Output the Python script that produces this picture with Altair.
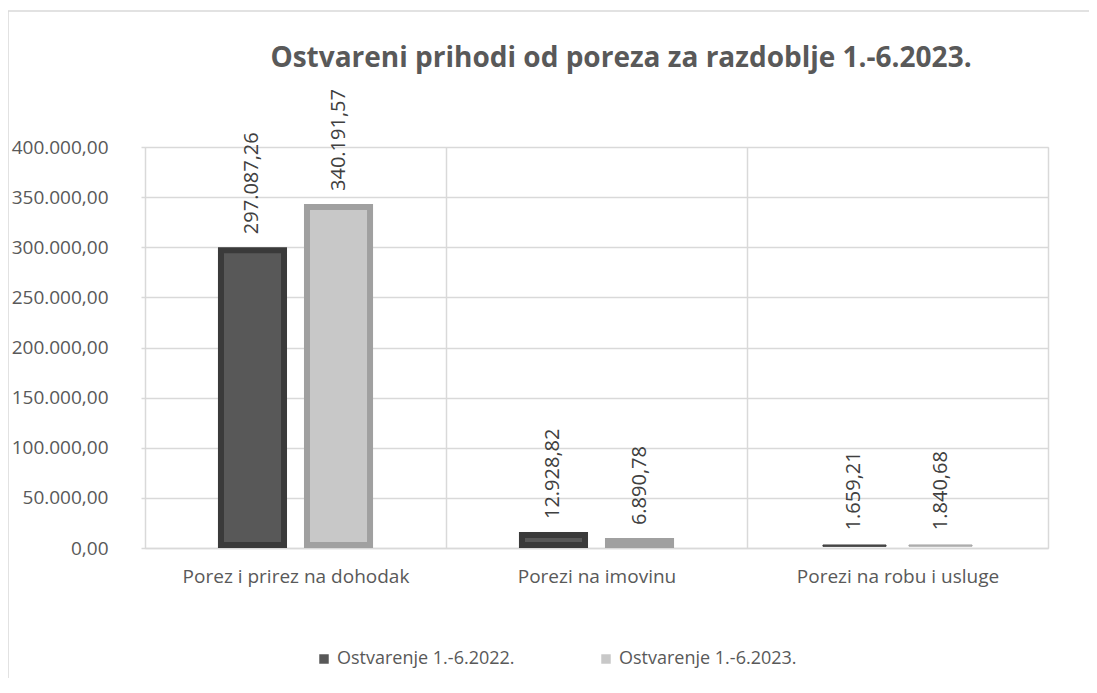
import altair as alt
import pandas as pd

title_text = "Ostvareni prihodi od poreza za razdoblje 1.-6.2023."
categories = ["Porez i prirez na dohodak", "Porezi na imovinu", "Porezi na robu i usluge"]
series = ["Ostvarenje 1.-6.2022.", "Ostvarenje 1.-6.2023."]
values_2022 = [297087.26, 12928.82, 1659.21]
values_2023 = [340191.57, 6890.78, 1840.68]
y_ticks = [0, 50000, 100000, 150000, 200000, 250000, 300000, 350000, 400000]

rows = []
for c, v in zip(categories, values_2022):
    rows.append({"cat": c, "series": series[0], "value": v})
for c, v in zip(categories, values_2023):
    rows.append({"cat": c, "series": series[1], "value": v})
df = pd.DataFrame(rows)

FONT = "Open Sans"
GRID = "#d9d9d9"
TXT = "#595959"

x_enc = alt.X("cat:N", sort=categories, title=None,
              scale=alt.Scale(paddingInner=0, paddingOuter=0),
              axis=alt.Axis(labelAngle=0, ticks=False, grid=True, tickBand="extent",
                            gridColor=GRID, gridWidth=1.5, domainColor=GRID, domainWidth=1.5,
                            labelFont=FONT, labelFontSize=19, labelColor=TXT, labelPadding=19,
                            labelLimit=0))
y_enc = alt.Y("value:Q", title=None,
              scale=alt.Scale(domain=[0, 400000], nice=False),
              axis=alt.Axis(values=y_ticks, format=",.2f", grid=True, gridColor=GRID, gridWidth=1.5,
                            domain=False, tickColor=GRID, tickSize=4, tickWidth=1.5,
                            labelFont=FONT, labelFontSize=19, labelColor=TXT, labelPadding=33,
                            labelLimit=0))
xoff = alt.XOffset("series:N", sort=series,
                   scale=alt.Scale(paddingInner=0.267, paddingOuter=0.883))

# bevelled bars: face colour with a thick edge stroke; base lifted by the stroke half-width
bars = alt.Chart(df).mark_bar().encode(
    x=x_enc,
    y=y_enc,
    y2=alt.datum(3000),
    xOffset=xoff,
    color=alt.Color("series:N", sort=series, title=None,
                    scale=alt.Scale(domain=series, range=["#585858", "#c8c8c8"]),
                    legend=alt.Legend(orient="none", legendX=170, legendY=503, direction="horizontal",
                                      symbolType="square", symbolSize=90, symbolStrokeWidth=0,
                                      labelFont=FONT, labelFontSize=18, labelColor=TXT,
                                      columnPadding=82, labelOffset=4, labelLimit=0)),
    stroke=alt.Stroke("series:N", sort=series, legend=None,
                      scale=alt.Scale(domain=series, range=["#3a3a3a", "#a0a0a0"])),
    strokeWidth=alt.condition("datum.value >= 5000", alt.value(6), alt.value(1)),
)

labels = alt.Chart(df).mark_text(angle=270, align="left", baseline="middle", dx=16,
                                 font=FONT, fontSize=20, color="#404040").encode(
    x=alt.X("cat:N", sort=categories),
    y=alt.Y("value:Q"),
    xOffset=xoff,
    text=alt.Text("value:Q", format=",.2f"),
)

frame = alt.Chart(pd.DataFrame({"a": [0]})).mark_rect(fill=None, stroke=GRID, strokeWidth=1.5).encode(
    x=alt.value(-137), x2=alt.value(1000), y=alt.value(-136), y2=alt.value(700)
)

title = alt.Chart(pd.DataFrame({"t": [title_text]})).mark_text(
    font=FONT, fontSize=28, fontWeight="bold", color=TXT, align="center", baseline="alphabetic"
).encode(x=alt.value(476), y=alt.value(-80), text="t:N")

chart = alt.layer(frame, bars, labels, title).properties(
    width=903, height=401,
    autosize=alt.AutoSizeParams(type="none"),
    padding={"left": 137, "top": 139, "right": 41, "bottom": 130},
).configure_view(
    stroke=GRID, strokeWidth=1.5
).configure(
    locale={"number": {"decimal": ",", "thousands": ".", "grouping": [3], "currency": ["", ""]}}
)

chart.save("out.html", embed_options={"renderer": "svg", "actions": False})
